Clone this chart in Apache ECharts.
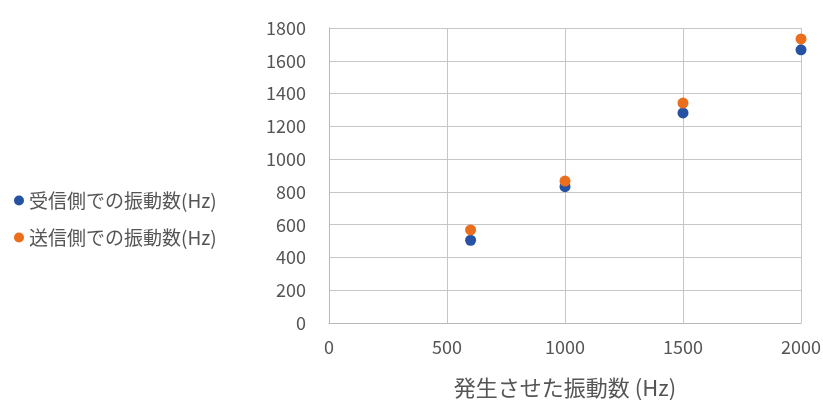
<!DOCTYPE html>
<html>
<head>
<meta charset="utf-8">
<script src="https://cdn.jsdelivr.net/npm/echarts@6/dist/echarts.min.js"></script>
<style>
  html, body { margin: 0; padding: 0; background: #fff; }
  #chart { width: 823px; height: 400px; }
</style>
</head>
<body>
<div id="chart"></div>
<script>
// Generated frequency (Hz) on the x axis
const generatedHz = [600, 1000, 1500, 2000];
// Frequency measured at the receiver side (Hz)
const receiverHz = [505, 832, 1282, 1667];
// Frequency measured at the sender side (Hz)
const senderHz = [568, 866, 1342, 1733];

const seriesNames = ['受信側での振動数(Hz)', '送信側での振動数(Hz)'];
const xTitle = '発生させた振動数 (Hz)';

const pairs = (xs, ys) => xs.map((x, i) => [x, ys[i]]);

const font = 'Noto Sans CJK JP';
const textColor = '#555555';
const plain = v => String(v);

const chart = echarts.init(document.getElementById('chart'));
chart.setOption({
  animation: false,
  backgroundColor: '#ffffff',
  textStyle: { fontFamily: font },
  grid: { left: 329, right: 22, top: 28, bottom: 77, outerBoundsMode: 'none', containLabel: false },
  legend: {
    orient: 'vertical',
    left: 9,
    top: 186,
    itemGap: 18,
    itemWidth: 10,
    itemHeight: 10,
    icon: 'circle',
    textStyle: { color: textColor, fontSize: 19, fontFamily: font },
    data: seriesNames
  },
  xAxis: {
    type: 'value',
    min: 0,
    max: 2000,
    interval: 500,
    name: xTitle,
    nameLocation: 'middle',
    nameGap: 54,
    nameTextStyle: { color: textColor, fontSize: 22, fontFamily: font },
    axisLine: { show: true, lineStyle: { color: '#b8b8b8', width: 1 } },
    axisTick: { show: false },
    axisLabel: { color: textColor, fontSize: 18, margin: 15, fontFamily: font, formatter: plain },
    splitLine: { show: true, lineStyle: { color: '#c6c6c6', width: 1 } }
  },
  yAxis: {
    type: 'value',
    min: 0,
    max: 1800,
    interval: 200,
    axisLine: { show: true, lineStyle: { color: '#b8b8b8', width: 1 } },
    axisTick: { show: false },
    axisLabel: { color: textColor, fontSize: 18, margin: 23, fontFamily: font, formatter: plain },
    splitLine: { show: true, lineStyle: { color: '#c6c6c6', width: 1 } }
  },
  series: [
    {
      name: seriesNames[0],
      type: 'scatter',
      symbol: 'circle',
      symbolSize: 11,
      itemStyle: { color: '#2552a3', opacity: 1 },
      data: pairs(generatedHz, receiverHz)
    },
    {
      name: seriesNames[1],
      type: 'scatter',
      symbol: 'circle',
      symbolSize: 11,
      itemStyle: { color: '#ea6e1c', opacity: 1 },
      data: pairs(generatedHz, senderHz)
    }
  ]
});
</script>
</body>
</html>
